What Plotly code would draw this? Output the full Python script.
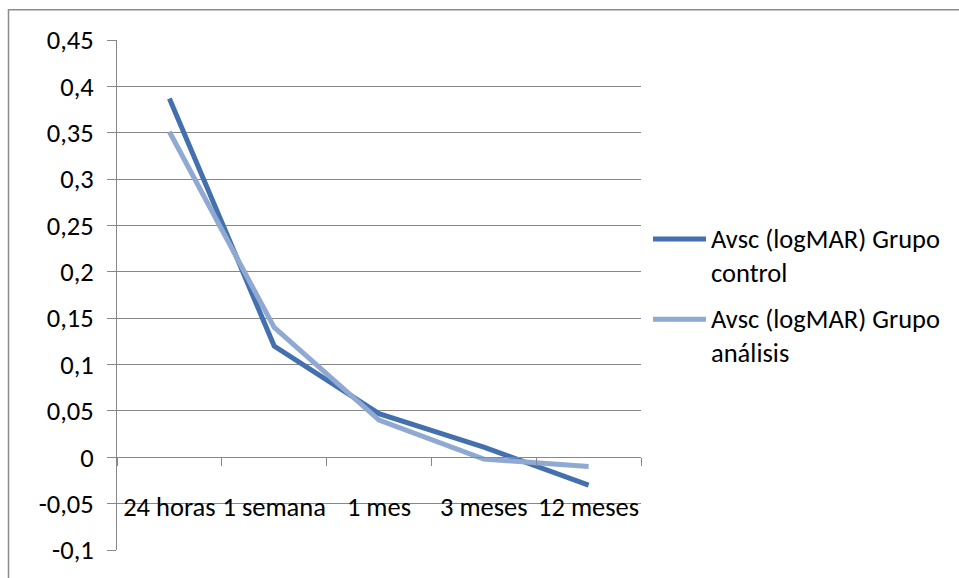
import plotly.graph_objects as go

# Visual acuity (logMAR) over follow-up time, two patient groups
categories = ["24 horas", "1 semana", "1 mes", "3 meses", "12 meses"]
control_name = "Avsc (logMAR) Grupo<br>control"
analysis_name = "Avsc (logMAR) Grupo<br>análisis"
control_values = [0.387, 0.120, 0.047, 0.011, -0.030]
analysis_values = [0.351, 0.140, 0.040, -0.002, -0.010]

y_tick_values = [0.45, 0.4, 0.35, 0.3, 0.25, 0.2, 0.15, 0.1, 0.05, 0, -0.05, -0.1]
y_tick_labels = ["0,45", "0,4", "0,35", "0,3", "0,25", "0,2", "0,15", "0,1",
                 "0,05", "0", "-0,05", "-0,1"]

DARK = "#4471AD"
LIGHT = "#8FA9D2"
GRID = "#878787"
FONT = "Carlito, Lato, sans-serif"
FS = 26.5

W, H = 959, 578
L, R, T, B = 117, 318, 40, 23
plot_w = W - L - R
plot_h = H - T - B

y_min, y_max = -0.1, 0.45
zero_frac = (0 - y_min) / (y_max - y_min)

fig = go.Figure()
fig.add_trace(go.Scatter(x=categories, y=control_values, mode="lines",
                         line=dict(color=DARK, width=5), name=control_name,
                         showlegend=False))
fig.add_trace(go.Scatter(x=categories, y=analysis_values, mode="lines",
                         line=dict(color=LIGHT, width=5), name=analysis_name,
                         showlegend=False))


def px_x(px):
    return (px - L) / plot_w


def px_y(py):
    return (H - B - py) / plot_h


shapes = [
    # outer chart frame
    dict(type="rect", xref="paper", yref="paper",
         x0=px_x(8.5), x1=px_x(990), y0=px_y(600), y1=px_y(9.5),
         line=dict(color="#8C8C8C", width=1.5), fillcolor="rgba(0,0,0,0)",
         layer="below"),
]

# custom legend: line swatch + wrapped label
annotations = []
for name, color, ypx in [(control_name, DARK, 241), (analysis_name, LIGHT, 322)]:
    shapes.append(dict(type="line", xref="paper", yref="paper",
                       x0=px_x(653), x1=px_x(706), y0=px_y(ypx), y1=px_y(ypx),
                       line=dict(color=color, width=5)))
    annotations.append(dict(xref="paper", yref="paper", x=px_x(709), y=px_y(ypx - 18),
                            xanchor="left", yanchor="top", align="left",
                            text=name, showarrow=False,
                            font=dict(family=FONT, size=FS, color="#000000")))

fig.update_layout(
    width=W, height=H,
    margin=dict(l=L, r=R, t=T, b=B),
    paper_bgcolor="white", plot_bgcolor="white",
    font=dict(family=FONT, size=FS, color="#000000"),
    showlegend=False,
    shapes=shapes,
    annotations=annotations,
    xaxis=dict(
        type="category", categoryorder="array", categoryarray=categories,
        range=[-0.5, len(categories) - 0.5],
        anchor="free", position=zero_frac,
        showline=True, linecolor=GRID, linewidth=1,
        ticks="outside", tickson="boundaries", ticklen=8, tickcolor=GRID, tickwidth=1,
        showgrid=False, zeroline=False,
        tickangle=0,
        ticklabelstandoff=26,
        tickfont=dict(family=FONT, size=FS, color="#000000"),
    ),
    yaxis=dict(
        range=[y_min, y_max],
        tickvals=y_tick_values, ticktext=y_tick_labels,
        showline=True, linecolor=GRID, linewidth=1,
        ticks="outside", ticklen=9, tickcolor=GRID, tickwidth=1,
        showgrid=True, gridcolor=GRID, gridwidth=1,
        zeroline=False,
        ticklabelstandoff=8,
        tickfont=dict(family=FONT, size=FS, color="#000000"),
    ),
)

fig.write_html("out.html")
